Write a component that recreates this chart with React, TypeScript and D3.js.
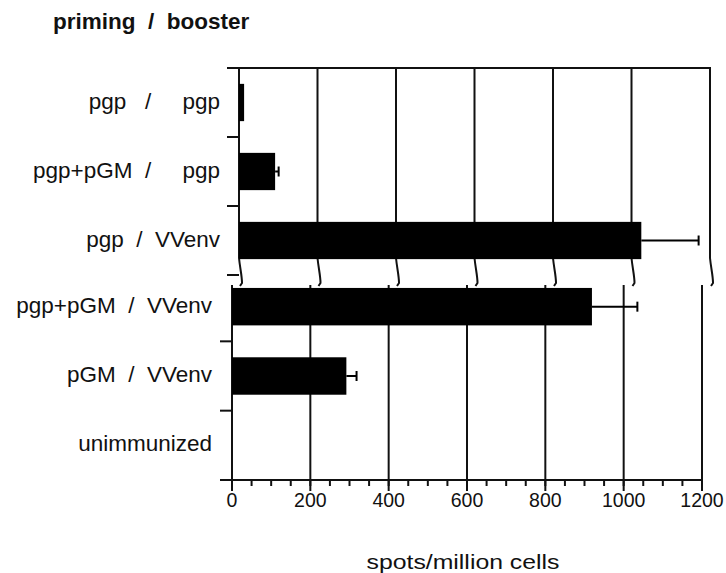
import React from "react";
import * as d3 from "d3";

// ---- data ----
const topCategories = ["pgp   /     pgp", "pgp+pGM  /     pgp", "pgp  /  VVenv"];
const topValues = [13, 92, 1025];
const topErrors = [0, 9, 146];
const bottomCategories = ["pgp+pGM  /  VVenv", "pGM  /  VVenv", "unimmunized"];
const bottomValues = [919, 292, 0];
const bottomErrors = [116, 26, 0];
const xTickValues = [0, 200, 400, 600, 800, 1000, 1200];
const xDomain: [number, number] = [0, 1200];
const chartTitle = "priming  /  booster";
const xAxisTitle = "spots/million cells";

const W = 726;
const H = 573;
const FONT = "'Liberation Sans', Arial, Helvetica, sans-serif";
const INK = "#111";

export default function App() {
  const xTop = d3.scaleLinear().domain(xDomain).range([239, 710]);
  const xBot = d3.scaleLinear().domain(xDomain).range([232, 702]);
  const yTop = d3.scaleBand<string>().domain(topCategories).range([68, 275]);
  const yBot = d3.scaleBand<string>().domain(bottomCategories).range([272, 480]);
  const minorTicks = xBot.ticks(24);

  const topY0 = 68;
  const breakY = 258;
  const botY0 = 285;
  const axisY = 480;

  const barFrac = 0.54;

  const breakPath = (x: number) =>
    `M${x},${topY0} L${x},${breakY} C${x + 1},${breakY + 10} ${x + 3},${breakY + 18} ${x + 3},${breakY + 25} L${x + 1},${breakY + 28}`;

  const renderBars = (
    cats: string[],
    vals: number[],
    errs: number[],
    x: d3.ScaleLinear<number, number>,
    y: d3.ScaleBand<string>
  ) =>
    cats.map((c, i) => {
      const bw = y.bandwidth();
      const cy = (y(c) as number) + bw / 2;
      const h = bw * barFrac;
      const x0 = x(0);
      const x1 = x(vals[i]);
      const xe = x(vals[i] + errs[i]);
      return (
        <g key={c}>
          {vals[i] > 0 && (
            <rect x={x0} y={cy - h / 2} width={x1 - x0} height={h} fill="#000" />
          )}
          {errs[i] > 0 && (
            <g stroke="#000" strokeWidth={2}>
              <line x1={x1} x2={xe} y1={cy} y2={cy} />
              <line x1={xe} x2={xe} y1={cy - 5} y2={cy + 5} />
            </g>
          )}
        </g>
      );
    });

  const renderLabels = (cats: string[], y: d3.ScaleBand<string>, xRight: number) =>
    cats.map((c) => {
      const cy = (y(c) as number) + y.bandwidth() / 2;
      return (
        <text
          key={c}
          x={xRight}
          y={cy + 6}
          textAnchor="end"
          fontSize={22.5}
          fontFamily={FONT}
          fill={INK}
          xmlSpace="preserve"
          style={{ whiteSpace: "pre" }}
        >
          {c}
        </text>
      );
    });

  return (
    <svg
      width={W}
      height={H}
      viewBox={`0 0 ${W} ${H}`}
      style={{ position: "absolute", left: 0, top: 0, background: "#fff" }}
    >
      <rect x={0} y={0} width={W} height={H} fill="#fff" />

      {/* chart title */}
      <text
        x={53}
        y={29}
        fontSize={22.5}
        fontWeight="bold"
        fontFamily={FONT}
        fill={INK}
        xmlSpace="preserve"
        style={{ whiteSpace: "pre" }}
      >
        {chartTitle}
      </text>

      {/* top panel grid with break marks */}
      <g fill="none" stroke={INK} strokeWidth={2}>
        {xTickValues.map((t) => (
          <path key={"tg" + t} d={breakPath(xTop(t))} />
        ))}
        <line x1={227} x2={xTop(1200) + 1} y1={topY0} y2={topY0} />
        {topCategories.map((c) => {
          const yb = (yTop(c) as number) + yTop.bandwidth();
          return <line key={"tt" + c} x1={227} x2={xTop(0)} y1={yb} y2={yb} />;
        })}
      </g>

      {/* bottom panel grid */}
      <g stroke={INK} strokeWidth={2}>
        {xTickValues.map((t) => (
          <line key={"bg" + t} x1={xBot(t)} x2={xBot(t)} y1={botY0} y2={axisY + 11} />
        ))}
        {minorTicks.map((t) => (
          <line key={"mt" + t} x1={xBot(t)} x2={xBot(t)} y1={axisY} y2={axisY + 6} />
        ))}
        <line x1={220} x2={xBot(1200) + 1} y1={axisY} y2={axisY} />
        {bottomCategories.slice(0, 2).map((c) => {
          const yb = (yBot(c) as number) + yBot.bandwidth();
          return <line key={"bt" + c} x1={220} x2={xBot(0)} y1={yb} y2={yb} />;
        })}
      </g>

      {/* bars */}
      {renderBars(topCategories, topValues, topErrors, xTop, yTop)}
      {renderBars(bottomCategories, bottomValues, bottomErrors, xBot, yBot)}

      {/* category labels */}
      {renderLabels(topCategories, yTop, xTop(0) - 19)}
      {renderLabels(bottomCategories, yBot, xBot(0) - 20)}

      {/* x tick labels */}
      {xTickValues.map((t) => (
        <text
          key={"xl" + t}
          x={xBot(t)}
          y={506.5}
          textAnchor="middle"
          fontSize={19.5}
          fontFamily={FONT}
          fill={INK}
        >
          {t}
        </text>
      ))}

      {/* x axis title */}
      <text
        x={463}
        y={569}
        textAnchor="middle"
        fontSize={20.5}
        fontFamily={FONT}
        fill={INK}
        textLength={193}
        lengthAdjust="spacingAndGlyphs"
      >
        {xAxisTitle}
      </text>
    </svg>
  );
}
